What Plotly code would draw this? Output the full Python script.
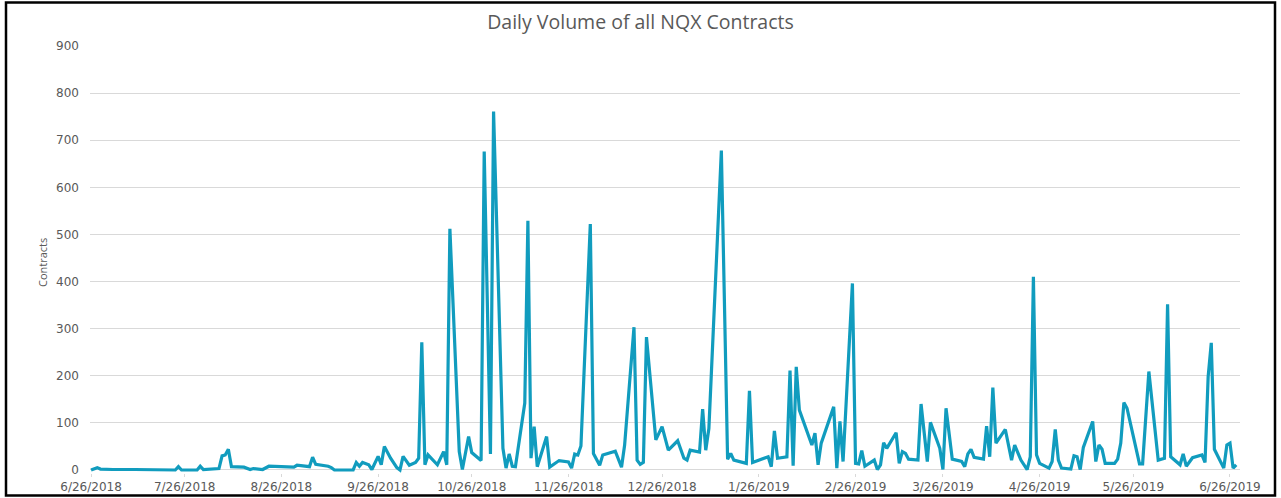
import plotly.graph_objects as go

# ---- data ----
dates = [
    "2018-06-26", "2018-06-28", "2018-06-29", "2018-07-03", "2018-07-10", "2018-07-17",
    "2018-07-23", "2018-07-24", "2018-07-25", "2018-07-30", "2018-07-31", "2018-08-01",
    "2018-08-06", "2018-08-07", "2018-08-08", "2018-08-09", "2018-08-10", "2018-08-14",
    "2018-08-16", "2018-08-17", "2018-08-20", "2018-08-22", "2018-08-30", "2018-08-31",
    "2018-09-04", "2018-09-05", "2018-09-06", "2018-09-10", "2018-09-11", "2018-09-12",
    "2018-09-18", "2018-09-19", "2018-09-20", "2018-09-21", "2018-09-23", "2018-09-24",
    "2018-09-26", "2018-09-27", "2018-09-28", "2018-09-30", "2018-10-02", "2018-10-03",
    "2018-10-04", "2018-10-06", "2018-10-08", "2018-10-09", "2018-10-10", "2018-10-11",
    "2018-10-12", "2018-10-15", "2018-10-17", "2018-10-18", "2018-10-19", "2018-10-22",
    "2018-10-23", "2018-10-25", "2018-10-26", "2018-10-29", "2018-10-30", "2018-11-01",
    "2018-11-02", "2018-11-05", "2018-11-06", "2018-11-07", "2018-11-08", "2018-11-09",
    "2018-11-12", "2018-11-13", "2018-11-14", "2018-11-15", "2018-11-16", "2018-11-19",
    "2018-11-20", "2018-11-23", "2018-11-26", "2018-11-27", "2018-11-28", "2018-11-29",
    "2018-11-30", "2018-12-03", "2018-12-04", "2018-12-06", "2018-12-07", "2018-12-11",
    "2018-12-12", "2018-12-13", "2018-12-14", "2018-12-17", "2018-12-18", "2018-12-19",
    "2018-12-20", "2018-12-21", "2018-12-24", "2018-12-26", "2018-12-28", "2018-12-31",
    "2019-01-02", "2019-01-03", "2019-01-04", "2019-01-07", "2019-01-08", "2019-01-09",
    "2019-01-10", "2019-01-14", "2019-01-16", "2019-01-17", "2019-01-18", "2019-01-22",
    "2019-01-23", "2019-01-24", "2019-01-29", "2019-01-30", "2019-01-31", "2019-02-01",
    "2019-02-04", "2019-02-05", "2019-02-06", "2019-02-07", "2019-02-08", "2019-02-12",
    "2019-02-13", "2019-02-14", "2019-02-15", "2019-02-19", "2019-02-20", "2019-02-21",
    "2019-02-22", "2019-02-25", "2019-02-26", "2019-02-27", "2019-02-28", "2019-03-01",
    "2019-03-04", "2019-03-05", "2019-03-06", "2019-03-07", "2019-03-08", "2019-03-11",
    "2019-03-12", "2019-03-13", "2019-03-14", "2019-03-15", "2019-03-18", "2019-03-19",
    "2019-03-21", "2019-03-22", "2019-03-25", "2019-03-26", "2019-03-27", "2019-03-29",
    "2019-04-01", "2019-04-02", "2019-04-03", "2019-04-04", "2019-04-05", "2019-04-08",
    "2019-04-09", "2019-04-10", "2019-04-11", "2019-04-12", "2019-04-15", "2019-04-17",
    "2019-04-18", "2019-04-20", "2019-04-22", "2019-04-23", "2019-04-24", "2019-04-25",
    "2019-04-26", "2019-04-29", "2019-04-30", "2019-05-01", "2019-05-02", "2019-05-03",
    "2019-05-06", "2019-05-07", "2019-05-08", "2019-05-09", "2019-05-10", "2019-05-13",
    "2019-05-14", "2019-05-15", "2019-05-16", "2019-05-17", "2019-05-20", "2019-05-21",
    "2019-05-22", "2019-05-23", "2019-05-24", "2019-05-28", "2019-05-29", "2019-05-31",
    "2019-06-03", "2019-06-05", "2019-06-06", "2019-06-07", "2019-06-10", "2019-06-11",
    "2019-06-12", "2019-06-14", "2019-06-17", "2019-06-18", "2019-06-19", "2019-06-20",
    "2019-06-21", "2019-06-24", "2019-06-25", "2019-06-26", "2019-06-27", "2019-06-28",
]

contracts = [
    0, 5, 2, 1, 1, 1,
    0, 7, 0, 0, 8, 1,
    3, 30, 32, 44, 7, 6,
    1, 3, 1, 8, 6, 10,
    7, 27, 12, 8, 5, 0,
    0, 16, 8, 16, 11, 1,
    29, 11, 50, 25, 5, 0,
    29, 10, 16, 25, 271, 11,
    32, 11, 39, 11, 512, 39,
    1, 71, 37, 20, 676, 34,
    761, 46, 4, 34, 8, 7,
    142, 529, 25, 92, 7, 71,
    6, 20, 17, 4, 34, 32,
    51, 522, 35, 10, 32, 40,
    21, 6, 53, 303, 21, 12,
    16, 282, 64, 92, 42, 62,
    25, 21, 42, 38, 129, 42,
    88, 678, 23, 35, 21, 14,
    168, 16, 28, 7, 83, 25,
    28, 211, 9, 219, 127, 53,
    78, 11, 57, 134, 4, 103,
    18, 396, 14, 13, 41, 8,
    21, 1, 11, 58, 46, 79,
    14, 39, 35, 23, 21, 140,
    18, 101, 46, 1, 131, 23,
    18, 7, 34, 44, 27, 23,
    93, 28, 175, 57, 86, 21,
    53, 21, 1, 28, 410, 32,
    14, 4, 18, 86, 21, 4,
    2, 30, 28, 1, 48, 103,
    18, 53, 44, 14, 14, 23,
    57, 143, 131, 13, 13, 209,
    21, 25, 352, 28, 11, 34,
    8, 26, 32, 16, 198, 270,
    44, 4, 53, 57, 4, 11,
]

tick_dates = [
    "2018-06-26", "2018-07-26", "2018-08-26", "2018-09-26", "2018-10-26", "2018-11-26",
    "2018-12-26", "2019-01-26", "2019-02-26", "2019-03-26", "2019-04-26", "2019-05-26",
    "2019-06-26",
]
tick_labels = [
    "6/26/2018", "7/26/2018", "8/26/2018", "9/26/2018", "10/26/2018", "11/26/2018",
    "12/26/2018", "1/26/2019", "2/26/2019", "3/26/2019", "4/26/2019", "5/26/2019",
    "6/26/2019",
]

title_text = "Daily Volume of all NQX Contracts"
y_title = "Contracts"

# ---- figure ----
W, H = 1281, 498
ML, MR, MT, MB = 90, 41, 46, 25
pw = W - ML - MR
ph = H - MT - MB

def px_x(p):
    return (p - ML) / pw

def px_y(p):
    return (H - MB - p) / ph

LINE = "#119cbe"
GRID = "#d9d9d9"
TXT = "#595959"

fig = go.Figure()
fig.add_trace(go.Scatter(
    x=dates, y=contracts, mode="lines",
    line=dict(color=LINE, width=3.2),
    hoverinfo="x+y", showlegend=False,
))

fig.update_layout(
    width=W, height=H,
    margin=dict(l=ML, r=MR, t=MT, b=MB, autoexpand=False),
    paper_bgcolor="white", plot_bgcolor="white",
    title=dict(text=title_text, x=0.5, xref="container", xanchor="center",
               y=1 - 22 / H, yref="container", yanchor="middle",
               font=dict(family="Open Sans", size=19.5, color=TXT)),
    font=dict(family="Open Sans", size=11, color=TXT),
)

fig.update_xaxes(
    type="date", automargin=False,
    range=["2018-06-25 16:00", "2019-06-29 05:00"],
    tickmode="array", tickvals=tick_dates, ticktext=tick_labels,
    tickfont=dict(family="DejaVu Sans", size=12, color=TXT),
    ticks="outside", ticklen=3, tickcolor=GRID, tickwidth=1,
    showgrid=False, showline=False, zeroline=False,
)

fig.update_yaxes(
    automargin=False,
    range=[-6.4, 900], tick0=0, dtick=100,
    tickfont=dict(family="DejaVu Sans", size=12, color=TXT),
    showgrid=True, gridcolor=GRID, gridwidth=1,
    zeroline=True, zerolinecolor=GRID, zerolinewidth=1,
    showline=False, ticks="", ticklabelstandoff=10,
)

fig.add_annotation(
    text=y_title, textangle=-90, showarrow=False,
    xref="paper", yref="paper", x=px_x(42), y=px_y(262),
    xanchor="center", yanchor="middle",
    font=dict(family="Open Sans", size=11, color=TXT),
)

# outer frame
fig.add_shape(
    type="rect", xref="paper", yref="paper",
    x0=px_x(6), x1=px_x(1275), y0=px_y(495.5), y1=px_y(2.5),
    line=dict(color="black", width=2.5), fillcolor="rgba(0,0,0,0)", layer="above",
)

fig.write_html("out.html",
               config={"displayModeBar": False},
               post_script="document.body.style.margin='0';document.body.style.overflow='hidden';")
